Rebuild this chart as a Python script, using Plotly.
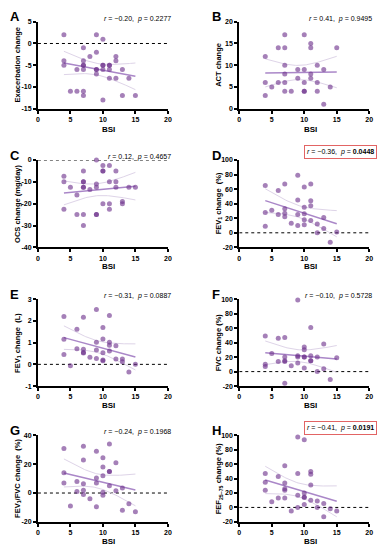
import numpy as np
import plotly.graph_objects as go

W, H = 388, 550

# ---------------- data ----------------
a_bsi = [4,4,4,5,6,6,7,7,7,7,7,7,7,8,9,9,9,9,9,10,10,10,10,10,11,11,11,11,12,12,12,13,13,14,15]
a_val = [2,-4,-5,-11,-11,-6,-1,-4,-5,-5,-6,-11,-12,-3,2,-2,-6,-6,-7,1,-5,-5,-6,-13,-5,-5,-6,-8,-3,-4,-8,-6,-12,-8,-12]

b_bsi = [4,4,4,5,6,6,7,7,7,7,7,7,8,9,9,10,10,10,10,10,11,11,11,11,12,12,12,13,13,14,15]
b_val = [12,6,3,5,14,6,17,14,10,8,6,4,4,9,7,17,9,6,4,4,15,14,8,7,10,6,4,9,1,5,14]

c_bsi = [4,4,4,5,6,6,7,7,7,7,7,7,7,8,9,9,9,9,9,10,10,10,10,11,11,11,11,12,12,12,13,13,14,15]
c_val = [-7.5,-10,-22.5,-12.5,-16,-25,-5,-10,-10,-12.5,-12.5,-25,-30,-13.5,0,-11,-12.5,-25,-25,
         -2.5,-5,-5,-20,-2.5,-10,-20,-22.5,-5,-10,-12.5,-19,-20,-12.5,-12.5]

d_bsi = [4,4,4,5,6,6,7,7,7,7,8,9,9,9,9,10,10,10,10,10,11,11,11,11,12,12,13,13,14,15]
d_val = [65,28,9,31,58,25,67,33,27,22,13,79,45,25,10,63,35,26,18,11,67,44,37,17,12,0,21,6,-13,1]

e_bsi = [4,4,4,5,6,6,7,7,7,7,8,9,9,9,9,10,10,10,10,10,11,11,11,11,12,12,13,13,14,15]
e_val = [2.2,1.15,0.45,-0.07,1.62,0.72,2.17,0.7,0.55,0.52,0.33,2.53,1.02,0.66,0.27,1.7,1.17,0.53,0.2,0.17,
         2.25,1.02,0.88,0.62,0.86,0.25,0.25,0.12,-0.35,0.01]

f_bsi = [4,4,4,5,6,6,7,7,7,7,7,8,9,9,9,9,10,10,10,10,10,11,11,11,11,12,12,13,13,14,15]
f_val = [49,10,7,25,46,14,47,20,15,14,-16,8,99,22,20,12,34,30,20,20,5,61,22,15,15,20,0,38,4,-11,19]

g_bsi = [4,4,4,5,6,6,7,7,7,7,7,8,9,9,9,9,10,10,10,10,10,11,11,11,11,12,12,13,13,14,15]
g_val = [31,14,7,-9,8,1,32.5,23,6.5,2,-1,-4,29,10.5,7,-9.5,24.5,18,12,0.5,-1.5,34,15,15,5,21,1.5,3.5,-12,-7.5,-13]

h_bsi = [4,4,4,5,6,6,7,7,7,7,7,8,9,9,9,9,10,10,10,10,10,11,11,11,11,12,12,13,13,14,15]
h_val = [47,35,24,8,43,13,58,34,26,24,13,-5,98,47,17,0,94,20,14,14,4,50,46,31,10,9,0,5.5,-13,-2,-5]

letters = ["A", "B", "C", "D", "E", "F", "G", "H"]
y_titles = ["Exacerbation change", "ACT change", "OCS change (mg/day)", "FEV<sub>1</sub> change  (%)",
            "FEV<sub>1</sub> change  (L)", "FVC change (%)", "FEV<sub>1</sub>/FVC change  (%)",
            "FEF<sub>25–75</sub> change (%)"]
r_text = ["−0.20", "0.41", "0.12", "−0.36", "−0.31", "−0.10", "−0.24", "−0.41"]
p_text = ["0.2277", "0.9495", "0.4657", "0.0448", "0.0887", "0.5728", "0.1968", "0.0191"]
significant = [False, False, False, True, False, False, False, True]

x_ticks = [0, 5, 10, 15, 20]
y_ticks = [
    [5, 0, -5, -10, -15],
    [20, 15, 10, 5, 0],
    [0, -10, -20, -30, -40],
    [100, 80, 60, 40, 20, 0, -20],
    [3, 2, 1, 0, -1],
    [100, 80, 60, 40, 20, 0, -20],
    [40, 20, 0, -20],
    [100, 80, 60, 40, 20, 0, -20],
]
x_title = "BSI"

panels = [(a_bsi, a_val), (b_bsi, b_val), (c_bsi, c_val), (d_bsi, d_val),
          (e_bsi, e_val), (f_bsi, f_val), (g_bsi, g_val), (h_bsi, h_val)]

# ---------------- layout geometry (pixels) ----------------
col_x = [(36.5, 168.5), (241, 373)]
row_y = [(18, 106), (158, 246.5), (299, 387), (437, 524.5)]
xtitle_off = [21, 19.5, 20, 19.5]

FONT = "Liberation Sans, Arial, sans-serif"
PT = "rgba(110, 50, 140, 0.62)"
REG = "rgb(170, 135, 200)"
CI = "rgb(222, 212, 232)"


def px_x(p):
    return p / W


def px_y(p):
    return 1 - p / H


def tick_label(v):
    return "%g" % v  # hyphen-minus like the original


fig = go.Figure()
layout = dict(width=W, height=H, margin=dict(l=0, r=0, t=0, b=0),
              paper_bgcolor="white", plot_bgcolor="white", showlegend=False,
              font=dict(family=FONT, color="black"))
annotations = []
shapes = []

for i, (xs, ys) in enumerate(panels):
    row, col = divmod(i, 2)
    ax = "" if i == 0 else str(i + 1)
    xa, ya = "x" + ax, "y" + ax
    x0p, x1p = col_x[col]
    y0p, y1p = row_y[row]

    yt = y_ticks[i]
    ymin, ymax = min(yt), max(yt)

    axis_common = dict(showline=True, linecolor="black", linewidth=2, ticks="outside",
                       ticklen=3, tickwidth=1.5, tickcolor="black", showgrid=False,
                       zeroline=False, tickfont=dict(size=7, family=FONT, weight="bold"),
                       fixedrange=True)
    layout["xaxis" + ax] = dict(domain=[px_x(x0p), px_x(x1p)], range=[0, 20], anchor=ya,
                                tickvals=x_ticks, ticktext=[tick_label(v) for v in x_ticks],
                                **axis_common)
    layout["yaxis" + ax] = dict(domain=[px_y(y1p), px_y(y0p)], range=[ymin, ymax], anchor=xa,
                                tickvals=yt, ticktext=[tick_label(v) for v in yt],
                                **axis_common)

    x = np.array(xs, dtype=float)
    y = np.array(ys, dtype=float)
    n = len(x)
    slope, intercept = np.polyfit(x, y, 1)
    xx = np.linspace(x.min(), x.max(), 60)
    yy = intercept + slope * xx
    resid = y - (intercept + slope * x)
    s = np.sqrt(np.sum(resid ** 2) / (n - 2))
    sxx = np.sum((x - x.mean()) ** 2)
    se = s * np.sqrt(1.0 / n + (xx - x.mean()) ** 2 / sxx)
    tcrit = 2.04

    # zero reference line
    if ymin < 0 <= ymax:
        shapes.append(dict(type="line", xref=xa, yref=ya, x0=0, x1=20, y0=0, y1=0,
                           line=dict(color="black", width=1, dash="dot"), layer="below"))

    fig.add_trace(go.Scatter(x=xx, y=yy + tcrit * se, mode="lines", xaxis=xa, yaxis=ya,
                             line=dict(color=CI, width=1), hoverinfo="skip"))
    fig.add_trace(go.Scatter(x=xx, y=yy - tcrit * se, mode="lines", xaxis=xa, yaxis=ya,
                             line=dict(color=CI, width=1), hoverinfo="skip"))
    fig.add_trace(go.Scatter(x=xx, y=yy, mode="lines", xaxis=xa, yaxis=ya,
                             line=dict(color=REG, width=1.5), hoverinfo="skip"))
    fig.add_trace(go.Scatter(x=xs, y=ys, mode="markers", xaxis=xa, yaxis=ya, cliponaxis=False,
                             marker=dict(size=5, color=PT, line=dict(width=0))))

    # panel letter
    annotations.append(dict(text="<b>%s</b>" % letters[i], xref="paper", yref="paper",
                            x=px_x(x0p - 30), y=px_y(y0p - 5), xanchor="left", yanchor="middle",
                            showarrow=False, font=dict(size=13, family=FONT)))
    # x title
    annotations.append(dict(text="<b>%s</b>" % x_title, xref="paper", yref="paper",
                            x=px_x((x0p + x1p) / 2 + 6), y=px_y(y1p + xtitle_off[row]),
                            xanchor="center", yanchor="middle", showarrow=False,
                            font=dict(size=8, family=FONT)))
    # y title
    annotations.append(dict(text="<b>%s</b>" % y_titles[i], xref="paper", yref="paper",
                            x=px_x(x0p - 21), y=px_y((y0p + y1p) / 2), xanchor="center",
                            yanchor="middle", textangle=-90, showarrow=False,
                            font=dict(size=7.5, family=FONT)))
    # statistics text
    if significant[i]:
        txt = "<i>r</i> = %s,  <i>p</i> = <b>%s</b>" % (r_text[i], p_text[i])
        annotations.append(dict(text=txt, xref="paper", yref="paper",
                                x=px_x(x1p + 8), y=px_y(y0p - 8), xanchor="right", yanchor="middle",
                                showarrow=False, font=dict(size=7, family=FONT),
                                bordercolor="#e26464", borderwidth=1, borderpad=2))
    else:
        txt = "<i>r</i> = %s,  <i>p</i> = %s" % (r_text[i], p_text[i])
        annotations.append(dict(text=txt, xref="paper", yref="paper",
                                x=px_x(x1p + 5), y=px_y(y0p - 3), xanchor="right", yanchor="middle",
                                showarrow=False, font=dict(size=7, family=FONT)))

layout["annotations"] = annotations
layout["shapes"] = shapes
fig.update_layout(**layout)
fig.write_html("out.html", config={"displayModeBar": False},
               post_script="document.body.style.margin='0px';document.body.style.padding='0px';")
